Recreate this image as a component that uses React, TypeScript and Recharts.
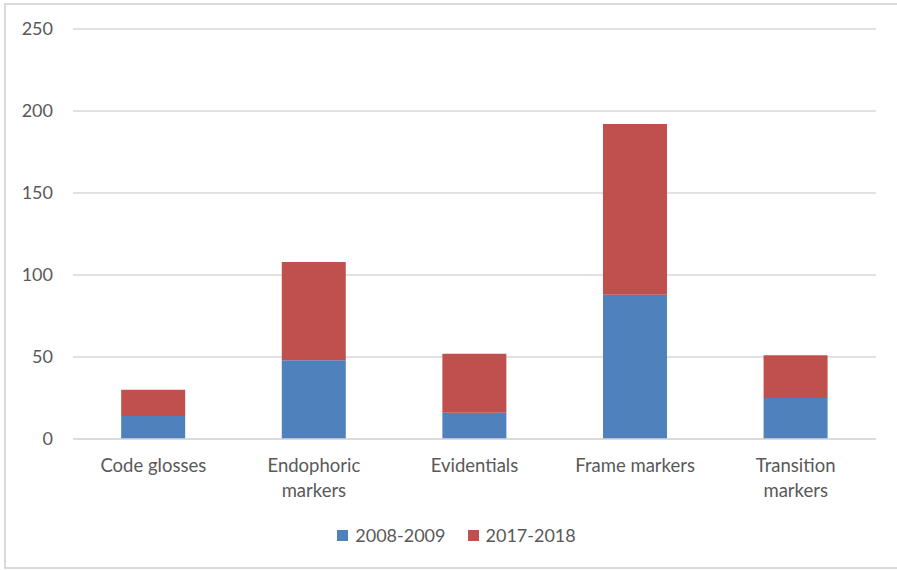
import React from "react";
import { BarChart, Bar, XAxis, YAxis, CartesianGrid, Legend } from "recharts";

const categories = ["Code glosses", "Endophoric markers", "Evidentials", "Frame markers", "Transition markers"];
const series2008 = [14, 48, 16, 88, 25];
const series2017 = [16, 60, 36, 104, 26];
const yTicks = [0, 50, 100, 150, 200, 250];
const seriesNames = ["2008-2009", "2017-2018"];
const seriesColors = ["#4F81BD", "#C0504D"];

const data = categories.map((c, i) => ({ name: c, a: series2008[i], b: series2017[i] }));

const FONT = "Lato, 'DejaVu Sans', sans-serif";
const TEXT = "#595959";

const splitLabel = (s: string): string[] => {
  if (s.length <= 14) return [s];
  const idx = s.lastIndexOf(" ");
  return idx > 0 ? [s.slice(0, idx), s.slice(idx + 1)] : [s];
};

const XTick = (props: any) => {
  const { x, y, payload } = props;
  const lines = splitLabel(String(payload.value));
  return (
    <text x={x} y={y + 33} textAnchor="middle" fill={TEXT} fontSize={18.5} fontFamily={FONT}>
      {lines.map((l, i) => (
        <tspan key={i} x={x} dy={i === 0 ? 0 : 25}>
          {l}
        </tspan>
      ))}
    </text>
  );
};

const LegendContent = () => (
  <div style={{ display: "flex", justifyContent: "center", fontFamily: FONT, fontSize: 18, color: TEXT, height: 24, alignItems: "center" }}>
    {seriesNames.map((n, i) => (
      <div key={n} style={{ display: "flex", alignItems: "center", marginRight: i === 0 ? 22 : 0 }}>
        <div style={{ width: 11, height: 11, background: seriesColors[i], marginRight: 7 }} />
        <span>{n}</span>
      </div>
    ))}
  </div>
);

export default function App() {
  return (
    <div style={{ position: "absolute", left: 0, top: 0, width: 897, height: 570, background: "#fff", overflow: "hidden" }}>
      <div
        style={{
          position: "absolute",
          left: 4,
          top: 3,
          width: 893,
          height: 566,
          borderLeft: "2px solid #d9d9d9",
          borderTop: "2px solid #d9d9d9",
          borderBottom: "2px solid #d9d9d9",
          boxSizing: "border-box",
        }}
      />
      <div style={{ position: "absolute", left: 0, top: 0 }}>
        <BarChart
          width={897}
          height={570}
          data={data}
          margin={{ top: 29, right: 21, left: 0, bottom: 47 }}
          barCategoryGap="30%"
        >
          <CartesianGrid vertical={false} stroke="#d9d9d9" strokeWidth={1.5} />
          <XAxis
            dataKey="name"
            height={60}
            tickLine={false}
            axisLine={{ stroke: "#d9d9d9", strokeWidth: 1.5 }}
            tickSize={0}
            tickMargin={0}
            tick={<XTick />}
            interval={0}
          />
          <YAxis
            width={73}
            domain={[0, 250]}
            ticks={yTicks}
            tickLine={false}
            axisLine={false}
            tickSize={0}
            tickMargin={20}
            tick={{ fill: TEXT, fontSize: 18, fontFamily: FONT }}
          />
          <Legend
            verticalAlign="bottom"
            content={<LegendContent />}
            wrapperStyle={{ top: 523, bottom: "auto", left: 8, width: 897 }}
          />
          <Bar dataKey="a" stackId="s" name={seriesNames[0]} fill={seriesColors[0]} isAnimationActive={false} />
          <Bar dataKey="b" stackId="s" name={seriesNames[1]} fill={seriesColors[1]} isAnimationActive={false} />
        </BarChart>
      </div>
    </div>
  );
}
